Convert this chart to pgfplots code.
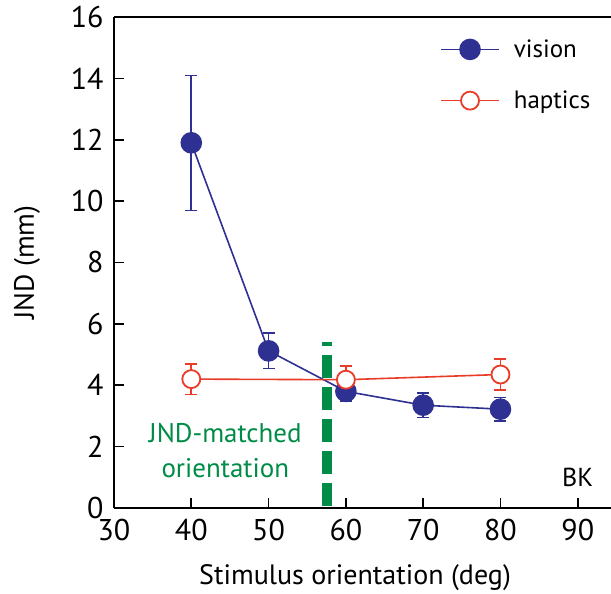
\documentclass[border=0pt]{standalone}
\usepackage{pgfplots}
\pgfplotsset{compat=1.18}
\usepackage{fontspec}
\setmainfont{PT Sans}
\definecolor{vblue}{RGB}{46,49,146}
\definecolor{hred}{RGB}{232,60,40}
\definecolor{mgreen}{RGB}{0,140,70}
\begin{document}
\begin{tikzpicture}
\begin{axis}[
  scale only axis,
  width=497pt, height=491pt,
  xmin=30, xmax=94.3, ymin=0, ymax=16,
  axis lines=left,
  axis line style={-, line width=1.8pt},
  tick align=inside,
  major tick length=10pt,
  every tick/.style={black, line width=1.6pt},
  xtick={30,40,50,60,70,80,90},
  ytick={0,2,4,6,8,10,12,14,16},
  /pgf/number format/assume math mode=true,
  ticklabel style={font=\fontsize{30}{34}\selectfont},
  xticklabel style={yshift=-8pt},
  yticklabel style={xshift=-7pt},
  label style={font=\fontsize{28}{32}\selectfont},
  xlabel={Stimulus orientation (deg)},
  ylabel={JND (mm)},
  xlabel style={at={(axis description cs:0.485,-0.1426)},anchor=center},
  ylabel style={at={(axis description cs:-0.175,0.5)},anchor=center},
  clip=false,
  legend style={draw=none, fill=none, at={(axis description cs:0.656,0.958)}, anchor=north west,
    font=\fontsize{25}{29}\selectfont, row sep=28pt, inner sep=0pt},
  legend cell align=left,
  legend image code/.code={\draw[mark repeat=2,mark phase=2] plot coordinates {(0pt,0pt)(29pt,0pt)(58pt,0pt)};},
]
\addplot[color=vblue, line width=1.6pt, mark=*, mark size=10pt, mark options={fill=vblue, draw=vblue},
  error bars/.cd, y dir=both, y explicit, error bar style={line width=1.6pt, vblue}, error mark options={rotate=90, mark size=6pt, line width=1.6pt, vblue}]
  coordinates {
  (40,11.9) +- (0,2.2)
  (50,5.12) +- (0,0.58)
  (60,3.8) +- (0,0.32)
  (70,3.35) +- (0,0.4)
  (80,3.22) +- (0,0.38)
};
\addlegendentry{\hspace{12pt}vision}
\addplot[color=hred, line width=1.6pt, mark=*, mark size=9pt, mark options={fill=white, draw=hred, line width=1.8pt},
  error bars/.cd, y dir=both, y explicit, error bar style={line width=1.6pt, hred}, error mark options={rotate=90, mark size=6pt, line width=1.6pt, hred}]
  coordinates {
  (40,4.2) +- (0,0.5)
  (60,4.18) +- (0,0.45)
  (80,4.35) +- (0,0.5)
};
\addlegendentry{\hspace{12pt}haptics}
\addplot[color=mgreen, line width=10pt, dash pattern=on 23pt off 9pt, forget plot] coordinates {(57.5,0.05) (57.5,5.4)};
\draw[line width=1.8pt] (rel axis cs:0,1) -- (rel axis cs:1.02,1);
\node[mgreen, align=center, font=\fontsize{27}{35}\selectfont] at (axis cs:44.4,1.86) {JND-matched\\orientation};
\node[font=\fontsize{26}{30}\selectfont] at (axis cs:90,1.0) {BK};
\coordinate (O) at (rel axis cs:0,0);
\end{axis}
\pgfresetboundingbox
\path[use as bounding box] (O) ++(-114pt,-86pt) rectangle ++(611pt,594pt);
\end{tikzpicture}
\end{document}
